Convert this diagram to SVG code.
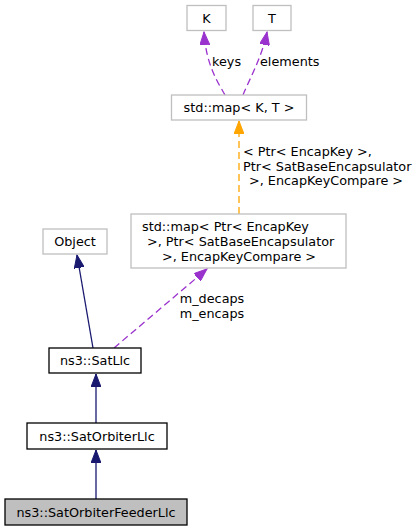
<svg xmlns="http://www.w3.org/2000/svg" width="419" height="531" viewBox="0 0 419 531">
<style>
text{font-family:"DejaVu Sans","Liberation Sans",sans-serif;font-size:12.8px;fill:#000}
.c{text-anchor:middle}
.box{fill:#fff;stroke:#bfbfbf;stroke-width:1.3}
.doc{fill:#fff;stroke:#000;stroke-width:1.3}
.cur{fill:#bfbfbf;stroke:#000;stroke-width:1.3}
.inh{fill:none;stroke:#191970;stroke-width:1.3}
.use{fill:none;stroke:#9a32cd;stroke-width:1.3;stroke-dasharray:7,4}
.tpl{fill:none;stroke:#ffa500;stroke-width:1.3;stroke-dasharray:7,4}
</style>
<defs>
<marker id="aInh" markerUnits="userSpaceOnUse" markerWidth="14" markerHeight="10" refX="13" refY="5" orient="auto"><path d="M0,0 L13,5 L0,10 z" fill="#191970" stroke="#191970"/></marker>
<marker id="aUse" markerUnits="userSpaceOnUse" markerWidth="14" markerHeight="10" refX="13" refY="5" orient="auto"><path d="M0,0 L13,5 L0,10 z" fill="#9a32cd" stroke="#9a32cd"/></marker>
<marker id="aTpl" markerUnits="userSpaceOnUse" markerWidth="14" markerHeight="10" refX="13" refY="5" orient="auto"><path d="M0,0 L13,5 L0,10 z" fill="#ffa500" stroke="#ffa500"/></marker>
</defs>
<g id="edges">
<path class="inh" d="M96,499 L96,450" marker-end="url(#aInh)"/>
<path class="inh" d="M96,423 L96,374" marker-end="url(#aInh)"/>
<path class="inh" d="M93,348 L77,255" marker-end="url(#aInh)"/>
<path class="use" d="M114,348 L207,269" marker-end="url(#aUse)"/>
<path class="tpl" d="M239,214 L239,121" marker-end="url(#aTpl)"/>
<path class="use" d="M225,95 C219,84 206,66 204,32" marker-end="url(#aUse)"/>
<path class="use" d="M243,95 C247,84 262,58 267,32" marker-end="url(#aUse)"/>
<text x="212" y="66">keys</text>
<text x="260" y="66">elements</text>
<text x="243" y="156">&lt; Ptr&lt; EncapKey &gt;,</text>
<text x="243" y="170.5">Ptr&lt; SatBaseEncapsulator</text>
<text x="249" y="185">&gt;, EncapKeyCompare &gt;</text>
<text class="c" x="212" y="303">m_decaps</text>
<text class="c" x="212" y="318">m_encaps</text>
</g>
<g id="node-K"><rect class="box" x="187" y="5.5" width="39" height="25"/><text class="c" x="206.5" y="22.5">K</text></g>
<g id="node-T"><rect class="box" x="253" y="5.5" width="38" height="25"/><text class="c" x="272" y="22.5">T</text></g>
<g id="node-mapKT"><rect class="box" x="171.5" y="95" width="135" height="25"/><text class="c" x="239" y="112">std::map&lt; K, T &gt;</text></g>
<g id="node-mapEncap"><rect class="box" x="131" y="214" width="215" height="54"/>
<text x="142" y="231">std::map&lt; Ptr&lt; EncapKey</text>
<text x="147" y="246">&gt;, Ptr&lt; SatBaseEncapsulator</text>
<text x="162" y="260.5">&gt;, EncapKeyCompare &gt;</text></g>
<g id="node-Object"><rect class="box" x="43" y="229" width="64" height="25"/><text class="c" x="75" y="246">Object</text></g>
<g id="node-SatLlc"><rect class="doc" x="49" y="348" width="92" height="25"/><text class="c" x="95" y="365">ns3::SatLlc</text></g>
<g id="node-SatOrbiterLlc"><rect class="doc" x="27" y="423" width="140" height="26"/><text class="c" x="97" y="440.5">ns3::SatOrbiterLlc</text></g>
<g id="node-SatOrbiterFeederLlc"><rect class="cur" x="5" y="499" width="182" height="26"/><text class="c" x="96" y="516.5">ns3::SatOrbiterFeederLlc</text></g>
</svg>
